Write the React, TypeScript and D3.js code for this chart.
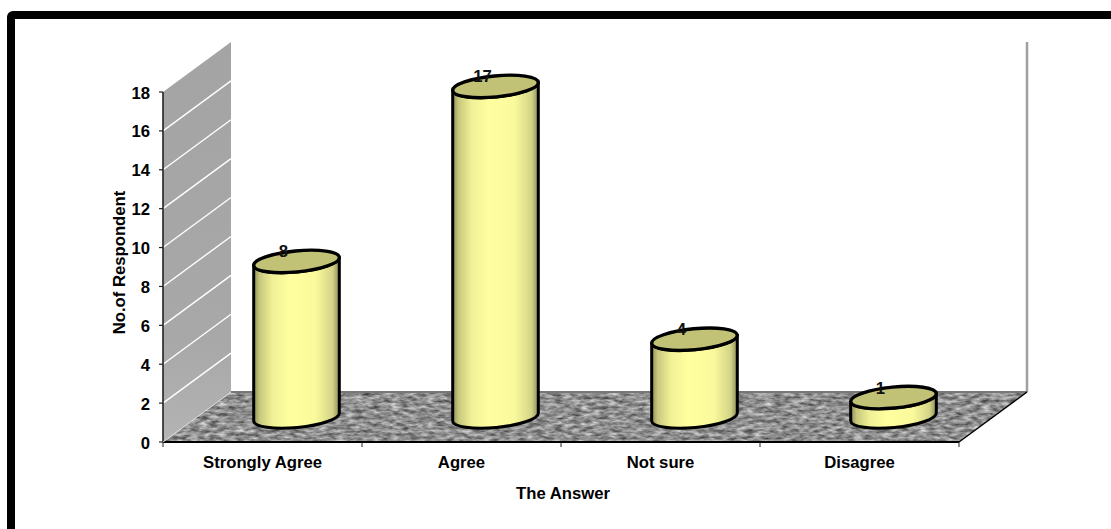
import React from "react";
import * as d3 from "d3";

const categories = ["Strongly Agree", "Agree", "Not sure", "Disagree"];
const respondents = [8, 17, 4, 1];
const yTicks = [0, 2, 4, 6, 8, 10, 12, 14, 16, 18];
const yTitle = "No.of Respondent";
const xTitle = "The Answer";

const W = 1111;
const H = 529;
const left = 163;
const right = 959;
const base = 442;
const top = 92;
const depthX = 68;
const depthY = -50;
const font = "'Liberation Sans', Arial, sans-serif";
const labelSize = 16.7;

const y = d3.scaleLinear().domain([0, 18]).range([base, top]);
const x = d3.scaleBand<string>().domain(categories).range([left, right]);

const rx = 43;
const ry = 10.5;
const tilt = -5.5;

// Outline of a cylinder standing between two ellipse centres, built from the tilted ellipse.
function cylinderPath(cx: number, yBase: number, yTop: number) {
  const a = (tilt * Math.PI) / 180;
  const dx = rx * Math.cos(a);
  const dy = rx * Math.sin(a);
  return `M${cx - dx},${yTop - dy} L${cx - dx},${yBase - dy} A${rx},${ry} ${tilt} 0 0 ${cx + dx},${yBase + dy} L${cx + dx},${yTop + dy} A${rx},${ry} ${tilt} 0 1 ${cx - dx},${yTop - dy} Z`;
}

export default function App() {
  const floor = [
    [left, base],
    [left + depthX, base + depthY],
    [right + depthX, base + depthY],
    [right, base],
  ]
    .map((p) => p.join(","))
    .join(" ");
  const sideWall = [
    [left, base],
    [left, top],
    [left + depthX, top + depthY],
    [left + depthX, base + depthY],
  ]
    .map((p) => p.join(","))
    .join(" ");

  const boundaries = d3.range(categories.length + 1).map((i) => left + i * x.step());

  return (
    <svg
      width={W}
      height={H}
      viewBox={`0 0 ${W} ${H}`}
      style={{ position: "absolute", left: 0, top: 0, display: "block", background: "#fff" }}
    >
      <defs>
        <linearGradient id="cyl" x1="0" x2="1" y1="0" y2="0">
          <stop offset="0" stopColor="#8f8f58" />
          <stop offset="0.07" stopColor="#c8c87e" />
          <stop offset="0.22" stopColor="#f0f096" />
          <stop offset="0.42" stopColor="#ffffa0" />
          <stop offset="0.72" stopColor="#fafa9c" />
          <stop offset="0.92" stopColor="#d4d488" />
          <stop offset="1" stopColor="#8f8f58" />
        </linearGradient>
        <linearGradient id="wallShade" x1="0" x2="0" y1="0" y2="1">
          <stop offset="0" stopColor="#a4a4a4" />
          <stop offset="0.75" stopColor="#a8a8a8" />
          <stop offset="1" stopColor="#b4b4b4" />
        </linearGradient>
        <filter id="granite" x="0" y="0" width="100%" height="100%" colorInterpolationFilters="sRGB">
          <feTurbulence type="fractalNoise" baseFrequency="0.11 0.3" numOctaves="3" seed="7" />
          <feColorMatrix
            type="matrix"
            values="0.8 0 0 0 0.16  0.8 0 0 0 0.16  0.8 0 0 0 0.16  0 0 0 0 1"
          />
          <feGaussianBlur stdDeviation="0.6" />
          <feComposite in2="SourceGraphic" operator="in" />
        </filter>
      </defs>

      {/* slide frame */}
      <rect x={11} y={15} width={1110} height={530} fill="#fff" stroke="#000" strokeWidth={8} rx={2} />

      {/* back and side walls */}
      <polygon points={sideWall} fill="url(#wallShade)" />
      <line
        x1={right + depthX}
        x2={right + depthX}
        y1={top + depthY}
        y2={base + depthY}
        stroke="#a0a0a0"
        strokeWidth={2.5}
      />
      {/* floor */}
      <polygon points={floor} fill="#8c8c8c" filter="url(#granite)" />
      <line
        x1={left + depthX}
        x2={right + depthX}
        y1={base + depthY}
        y2={base + depthY}
        stroke="#777"
        strokeWidth={2}
      />

      {/* gridlines on the side wall */}
      {yTicks.slice(1, -1).map((t) => (
        <line
          key={t}
          x1={left}
          y1={y(t)}
          x2={left + depthX}
          y2={y(t) + depthY}
          stroke="#fff"
          strokeWidth={1.4}
        />
      ))}

      {/* axes */}
      <line x1={left} x2={left} y1={top} y2={base} stroke="#222" strokeWidth={1.6} />
      <line x1={left} x2={right} y1={base} y2={base} stroke="#000" strokeWidth={2} />
      <line x1={right} x2={right + depthX} y1={base} y2={base + depthY} stroke="#000" strokeWidth={1.5} />
      <line x1={left} x2={left + depthX} y1={base} y2={base + depthY} stroke="#ddd" strokeWidth={1} />

      {yTicks.map((t) => (
        <g key={t}>
          <line x1={left - 4} x2={left} y1={y(t)} y2={y(t)} stroke="#222" strokeWidth={1.2} />
          <text
            x={left - 13}
            y={y(t) + 6.5}
            textAnchor="end"
            fontFamily={font}
            fontWeight="bold"
            fontSize={labelSize}
            fill="#000"
          >
            {t}
          </text>
        </g>
      ))}
      {boundaries.map((b) => (
        <line key={b} x1={b} x2={b} y1={base} y2={base + 5} stroke="#222" strokeWidth={1} />
      ))}

      {/* cylinders */}
      {categories.map((c, i) => {
        const cx = (x(c) as number) + x.bandwidth() / 2 + depthX / 2;
        const yBase = base + depthY / 2;
        const yTop = y(respondents[i]) + depthY / 2;
        return (
          <g key={c}>
            <path d={cylinderPath(cx, yBase, yTop)} fill="url(#cyl)" stroke="#000" strokeWidth={3} strokeLinejoin="round" />
            <ellipse
              cx={cx}
              cy={yTop}
              rx={rx}
              ry={ry}
              transform={`rotate(${tilt} ${cx} ${yTop})`}
              fill="#c2c276"
              stroke="#000"
              strokeWidth={3.4}
            />
            <text
              x={cx - 13}
              y={yTop - 4}
              textAnchor="middle"
              fontFamily={font}
              fontSize={labelSize}
              fontWeight="bold"
              fill="#111"
            >
              {respondents[i]}
            </text>
          </g>
        );
      })}

      {/* category labels */}
      {categories.map((c) => (
        <text
          key={c}
          x={(x(c) as number) + x.bandwidth() / 2}
          y={468}
          textAnchor="middle"
          fontFamily={font}
          fontWeight="bold"
          fontSize={labelSize}
          fill="#000"
        >
          {c}
        </text>
      ))}

      {/* axis titles */}
      <text
        x={563}
        y={499}
        textAnchor="middle"
        fontFamily={font}
        fontWeight="bold"
        fontSize={labelSize}
        fill="#000"
      >
        {xTitle}
      </text>
      <text
        transform="translate(125,262.5) rotate(-90)"
        textAnchor="middle"
        fontFamily={font}
        fontWeight="bold"
        fontSize={labelSize}
        fill="#000"
      >
        {yTitle}
      </text>
    </svg>
  );
}
